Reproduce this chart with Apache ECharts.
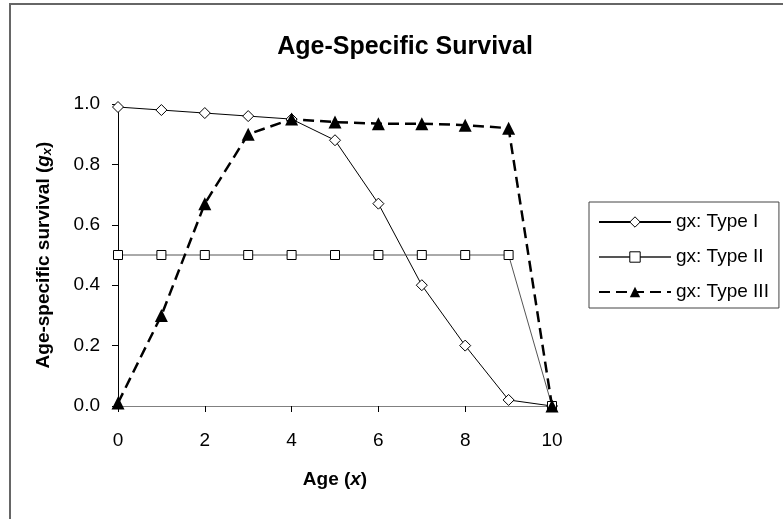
<!DOCTYPE html>
<html>
<head>
<meta charset="utf-8">
<script src="https://cdn.jsdelivr.net/npm/echarts@6/dist/echarts.min.js"></script>
<style>
  html, body { margin: 0; padding: 0; background: #fff; }
  #container { width: 783px; height: 519px; }
</style>
</head>
<body>
<div id="container"></div>
<script>
let ages = [0, 1, 2, 3, 4, 5, 6, 7, 8, 9, 10];
let typeI = [0.99, 0.98, 0.97, 0.96, 0.95, 0.88, 0.67, 0.40, 0.20, 0.02, 0];
let typeII = [0.5, 0.5, 0.5, 0.5, 0.5, 0.5, 0.5, 0.5, 0.5, 0.5, 0];
let typeIII = [0.01, 0.30, 0.67, 0.90, 0.95, 0.94, 0.935, 0.935, 0.93, 0.92, 0];
let seriesNames = ['gx: Type I', 'gx: Type II', 'gx: Type III'];

let font = "'Liberation Sans', Arial, sans-serif";

function pairs(vals) {
    return ages.map(function (a, i) { return [a, vals[i]]; });
}

let dom = document.getElementById("container");
let myChart = echarts.init(dom);

let option = {
    animation: false,
    backgroundColor: '#fff',
    title: {
        text: 'Age-Specific Survival',
        left: 400,
        top: 30,
        textAlign: 'center',
        textStyle: { fontFamily: font, fontSize: 25, fontWeight: 'bold', color: '#000' }
    },
    graphic: [{
        type: 'rect',
        shape: { x: 10, y: 4, width: 800, height: 600 },
        style: { fill: 'none', stroke: '#666', lineWidth: 2 },
        silent: true
    }],
    legend: {
        orient: 'vertical',
        left: 589,
        top: 202,
        padding: [9, 10, 5, 9],
        itemWidth: 72,
        itemHeight: 13,
        itemGap: 13,
        borderColor: '#444',
        borderWidth: 1,
        itemStyle: { borderWidth: 1 },
        textStyle: { fontFamily: font, fontSize: 19, color: '#000', lineHeight: 22 },
        data: seriesNames
    },
    grid: { left: 118, top: 104, width: 434, height: 302 },
    xAxis: {
        type: 'value',
        min: 0, max: 10, interval: 2,
        name: 'Age ({i|x})',
        nameLocation: 'middle',
        nameGap: 64,
        nameTextStyle: {
            fontFamily: font, fontSize: 19, fontWeight: 'bold', color: '#000',
            rich: { i: { fontFamily: font, fontSize: 19, fontWeight: 'bold', fontStyle: 'italic', color: '#000' } }
        },
        axisLine: { lineStyle: { color: '#808080', width: 1 } },
        axisTick: { show: true, inside: false, length: 6, lineStyle: { color: '#000' } },
        axisLabel: { margin: 25, fontFamily: font, fontSize: 19, color: '#000' },
        splitLine: { show: false }
    },
    yAxis: {
        type: 'value',
        min: 0, max: 1, interval: 0.2,
        name: 'Age-specific survival ({i|g}{sub|x})',
        nameLocation: 'middle',
        nameGap: 64,
        nameTextStyle: {
            fontFamily: font, fontSize: 19, fontWeight: 'bold', color: '#000',
            rich: {
                i: { fontFamily: font, fontSize: 19, fontWeight: 'bold', fontStyle: 'italic', color: '#000' },
                sub: { fontFamily: font, fontSize: 13, fontWeight: 'bold', fontStyle: 'italic', color: '#000', verticalAlign: 'bottom', padding: [8, 0, 0, 0] }
            }
        },
        axisLine: { show: true, lineStyle: { color: '#000', width: 1 } },
        axisTick: { show: true, inside: false, length: 6, lineStyle: { color: '#000' } },
        axisLabel: {
            margin: 18, fontFamily: font, fontSize: 19, color: '#000',
            formatter: function (v) { return v.toFixed(1); }
        },
        splitLine: { show: false }
    },
    series: [
        {
            name: seriesNames[0],
            type: 'line',
            data: pairs(typeI),
            symbol: 'diamond',
            symbolSize: 11,
            lineStyle: { color: '#000', width: 1 },
            itemStyle: { color: '#fff', borderColor: '#000', borderWidth: 1 }
        },
        {
            name: seriesNames[1],
            type: 'line',
            data: pairs(typeII),
            symbol: 'rect',
            symbolSize: 9,
            lineStyle: { color: '#555', width: 1 },
            itemStyle: { color: '#fff', borderColor: '#000', borderWidth: 1 }
        },
        {
            name: seriesNames[2],
            type: 'line',
            data: pairs(typeIII),
            symbol: 'triangle',
            symbolSize: 13,
            lineStyle: { color: '#000', width: 2.5, type: [11, 6] },
            itemStyle: { color: '#000' }
        }
    ]
};

if (option && typeof option === "object") {
    myChart.setOption(option, true);
}
</script>
</body>
</html>
